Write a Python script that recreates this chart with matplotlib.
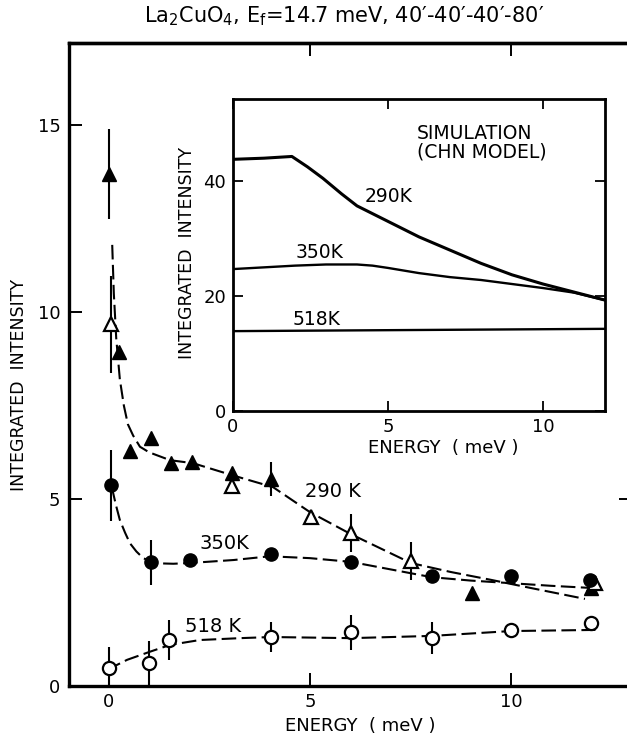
import matplotlib
matplotlib.use("Agg")
import matplotlib.pyplot as plt

plt.rcParams['font.family'] = ['DejaVu Sans']
plt.rcParams['mathtext.default'] = 'regular'

# ---- measured points (energy in meV, integrated intensity) ----
t290_fill_x = [0.0, 0.25, 0.52, 1.04, 1.54, 2.06, 3.06, 4.03, 9.03, 12.0]
t290_fill_y = [13.7, 8.93, 6.28, 6.63, 5.96, 5.99, 5.70, 5.53, 2.48, 2.62]
t290_fill_e = [1.2, 0, 0, 0, 0, 0, 0, 0.45, 0, 0]

t290_open_x = [0.05, 3.06, 5.02, 6.02, 7.51, 12.1]
t290_open_y = [9.68, 5.35, 4.52, 4.09, 3.34, 2.75]
t290_open_e = [1.3, 0, 0, 0.5, 0.5, 0]

t350_x = [0.05, 1.04, 2.01, 4.03, 6.02, 8.03, 10.0, 11.97]
t350_y = [5.37, 3.31, 3.37, 3.53, 3.31, 2.94, 2.94, 2.83]
t350_e = [0.95, 0.6, 0, 0, 0, 0, 0, 0]

t518_x = [0.0, 1.0, 1.49, 4.03, 6.02, 8.03, 10.0, 12.0]
t518_y = [0.48, 0.61, 1.23, 1.31, 1.44, 1.28, 1.50, 1.68]
t518_e = [0.55, 0.6, 0.53, 0.4, 0.47, 0.42, 0, 0]

# ---- guide-to-the-eye curves ----
fit290_x = [0.08, 0.12, 0.18, 0.27, 0.37, 0.47, 0.60, 0.77, 1.0, 1.52, 2.09,
            3.06, 4.08, 5.0, 6.02, 7.51, 8.5, 9.5, 10.5, 11.84]
fit290_y = [11.8, 10.5, 9.3, 8.2, 7.5, 7.0, 6.7, 6.4, 6.25, 6.04, 5.96,
            5.64, 5.32, 4.65, 4.06, 3.29, 3.05, 2.84, 2.62, 2.33]

fit350_x = [0.07, 0.17, 0.27, 0.40, 0.52, 0.68, 0.85, 1.05, 1.27, 1.6, 2.01,
            3.1, 4.0, 5.0, 6.02, 7.0, 8.03, 9.0, 10.0, 11.0, 12.04]
fit350_y = [5.32, 4.85, 4.44, 4.10, 3.82, 3.60, 3.42, 3.33, 3.28, 3.27, 3.29,
            3.37, 3.47, 3.42, 3.32, 3.12, 2.91, 2.82, 2.75, 2.68, 2.62]

fit518_x = [-0.05, 0.45, 1.0, 1.52, 2.26, 3.26, 4.03, 6.02, 8.03, 10.0, 12.1]
fit518_y = [0.43, 0.70, 0.91, 1.10, 1.23, 1.28, 1.31, 1.28, 1.34, 1.47, 1.50]

# ---- CHN-model simulation (inset) ----
sim290_x = [0, 1, 1.9, 2.4, 2.9, 3.5, 4, 5, 6, 7, 8, 9, 10, 11, 12]
sim290_y = [43.8, 44.0, 44.3, 42.5, 40.5, 37.8, 35.7, 33.0, 30.3, 28.0,
            25.7, 23.7, 22.1, 20.7, 19.3]
sim350_x = [0, 1, 2, 3, 4, 4.5, 5, 6, 7, 8, 9, 10, 11, 12]
sim350_y = [24.7, 25.0, 25.3, 25.5, 25.5, 25.3, 24.9, 24.0, 23.3, 22.8,
            22.1, 21.4, 20.6, 19.3]
sim518_x = [0, 12]
sim518_y = [13.9, 14.3]

main_xticks = [0, 5, 10]
main_top_ticks = [5, 10]
main_yticks = [0, 5, 10, 15]
main_right_ticks = [5]
inset_xticks = [0, 5, 10]
inset_yticks = [0, 20, 40]

W, H = 627, 738
fig = plt.figure(figsize=(W / 100, H / 100), dpi=100)


def px_box(left, right, top, bottom):
    return [left / W, 1 - bottom / H, (right - left) / W, (bottom - top) / H]


# ---------------- main panel ----------------
ax = fig.add_axes(px_box(68.8, 631.6, 43, 686))
ax.set_xlim(-1, 13)
ax.set_ylim(0, 17.2)
for s in ax.spines.values():
    s.set_linewidth(2.4)
ax.set_xticks(main_xticks)
ax.set_yticks(main_yticks)
ax.tick_params(direction='in', length=9.5, width=1.4, labelsize=13,
               top=False, right=False)
ax.tick_params(axis='y', pad=6)
ax.tick_params(axis='x', pad=5)

top = ax.secondary_xaxis('top')
top.set_xticks(main_top_ticks)
top.tick_params(direction='in', length=9.5, width=1.4, labeltop=False)
top.spines['top'].set_linewidth(2.4)
rgt = ax.secondary_yaxis('right')
rgt.set_yticks(main_right_ticks)
rgt.tick_params(direction='in', length=9.5, width=1.4, labelright=False)
rgt.spines['right'].set_linewidth(2.4)

dash = (0, (7, 2.6))
for fx, fy in [(fit290_x, fit290_y), (fit350_x, fit350_y), (fit518_x, fit518_y)]:
    ax.plot(fx, fy, color='black', lw=1.5, linestyle=dash, zorder=2)

common = dict(color='black', ecolor='black', elinewidth=1.5, capsize=0,
              markersize=9.5, linestyle='none', zorder=3)
ax.errorbar(t290_fill_x, t290_fill_y, yerr=t290_fill_e, fmt='^',
            markerfacecolor='black', **common)
ax.errorbar(t290_open_x, t290_open_y, yerr=t290_open_e, fmt='^',
            markerfacecolor='white', markeredgewidth=1.6, **common)
ax.errorbar(t350_x, t350_y, yerr=t350_e, fmt='o',
            markerfacecolor='black', **common)
ax.errorbar(t518_x, t518_y, yerr=t518_e, fmt='o',
            markerfacecolor='white', markeredgewidth=1.6, **common)

ax.text(5.57, 5.19, '290 K', fontsize=14, ha='center', va='center')
ax.text(2.86, 3.82, '350K', fontsize=14, ha='center', va='center')
ax.text(2.6, 1.58, '518 K', fontsize=14, ha='center', va='center')

fig.text(344 / W, 1 - 16 / H,
         'La$_2$CuO$_4$, E$_f$=14.7 meV, 40\u2032-40\u2032-40\u2032-80\u2032',
         fontsize=15, ha='center', va='center')
fig.text(19 / W, 1 - 385 / H, 'INTEGRATED  INTENSITY', rotation=90,
         fontsize=12.5, ha='center', va='center')
fig.text(360 / W, 1 - 726 / H, 'ENERGY  ( meV )', fontsize=13,
         ha='center', va='center')

# ---------------- inset: simulation ----------------
ins = fig.add_axes(px_box(233, 605, 99, 411))
ins.set_facecolor('white')
ins.set_xlim(0, 12)
ins.set_ylim(0, 54.3)
for s in ins.spines.values():
    s.set_linewidth(2.0)
ins.set_xticks(inset_xticks)
ins.set_yticks(inset_yticks)
ins.tick_params(direction='in', length=7, width=1.3, labelsize=13,
                top=True, right=True)
ins.tick_params(axis='x', pad=5)
ins.tick_params(axis='y', pad=5)

ins.plot(sim290_x, sim290_y, color='black', lw=2.2)
ins.plot(sim350_x, sim350_y, color='black', lw=1.7)
ins.plot(sim518_x, sim518_y, color='black', lw=1.7)

ins.text(5.94, 48.3, 'SIMULATION', fontsize=13.5, ha='left', va='center')
ins.text(5.94, 45.0, '(CHN MODEL)', fontsize=13.5, ha='left', va='center')
ins.text(5.03, 37.4, '290K', fontsize=13.5, ha='center', va='center')
ins.text(2.8, 27.5, '350K', fontsize=13.5, ha='center', va='center')
ins.text(2.7, 16.0, '518K', fontsize=13.5, ha='center', va='center')

fig.text(187 / W, 1 - 253 / H, 'INTEGRATED  INTENSITY', rotation=90,
         fontsize=12.5, ha='center', va='center')
fig.text(443 / W, 1 - 448 / H, 'ENERGY  ( meV )', fontsize=13,
         ha='center', va='center')

fig.savefig('out.png', dpi=100)
